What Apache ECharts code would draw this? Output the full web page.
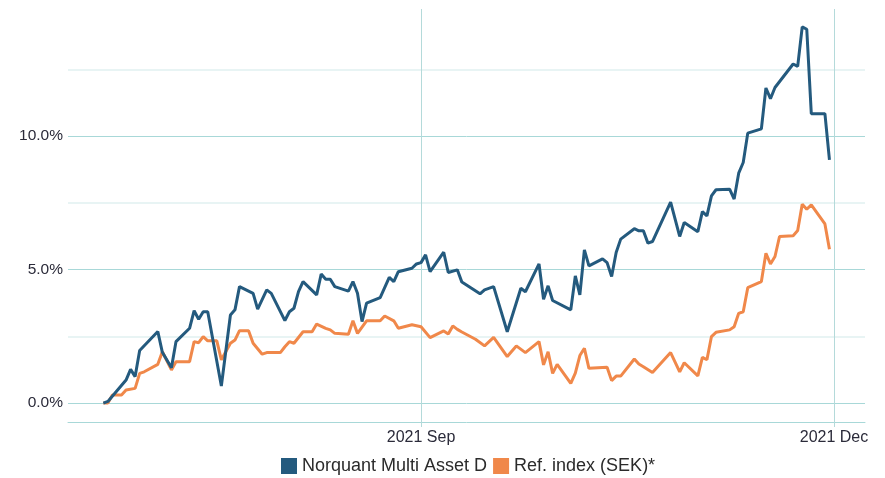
<!DOCTYPE html>
<html>
<head>
    <meta charset="utf-8">
    <title>Norquant Multi Asset D</title>
    <script src="https://cdn.jsdelivr.net/npm/echarts@6/dist/echarts.min.js"></script>
    <style>
        html,body{
            height:100%;
            width:100%;
            margin:0;
            padding:0;
            background:#fff;
        }
        #chart{
            width:885px;
            height:478px;
        }
    </style>
</head>
<body>
<div id="chart"></div>
<script>
    // fund
    var fundDates = ['2021-06-23','2021-06-24','2021-06-28','2021-06-29','2021-06-30','2021-07-01','2021-07-05','2021-07-06','2021-07-08','2021-07-09',
        '2021-07-12','2021-07-13','2021-07-14','2021-07-15','2021-07-16','2021-07-19','2021-07-21','2021-07-22','2021-07-23','2021-07-26',
        '2021-07-27','2021-07-29','2021-07-30','2021-08-02','2021-08-03','2021-08-04','2021-08-05','2021-08-06','2021-08-09','2021-08-10',
        '2021-08-11','2021-08-12','2021-08-13','2021-08-16','2021-08-17','2021-08-18','2021-08-19','2021-08-20','2021-08-23','2021-08-25',
        '2021-08-26','2021-08-27','2021-08-30','2021-08-31','2021-09-01','2021-09-02','2021-09-03','2021-09-06','2021-09-07','2021-09-09',
        '2021-09-10','2021-09-14','2021-09-15','2021-09-17','2021-09-20','2021-09-23','2021-09-24','2021-09-27','2021-09-28','2021-09-29',
        '2021-09-30','2021-10-04','2021-10-05','2021-10-06','2021-10-07','2021-10-08','2021-10-11','2021-10-12','2021-10-13','2021-10-14',
        '2021-10-15','2021-10-18','2021-10-19','2021-10-20','2021-10-21','2021-10-22','2021-10-26','2021-10-28','2021-10-29','2021-11-01',
        '2021-11-02','2021-11-03','2021-11-04','2021-11-05','2021-11-08','2021-11-09','2021-11-10','2021-11-11','2021-11-12','2021-11-15',
        '2021-11-16','2021-11-17','2021-11-18','2021-11-22','2021-11-23','2021-11-24','2021-11-25','2021-11-26','2021-11-29','2021-11-30'];
    var fundValues = [0.00,0.06,0.86,1.26,0.99,1.97,2.68,1.90,1.32,2.30,
        2.80,3.46,3.14,3.42,3.42,0.64,3.30,3.49,4.36,4.11,
        3.52,4.24,4.11,3.09,3.42,3.55,4.17,4.55,4.05,4.83,
        4.64,4.64,4.36,4.19,4.55,4.11,3.05,3.74,3.95,4.71,
        4.55,4.92,5.05,5.21,5.26,5.55,4.92,5.65,4.89,4.99,
        4.53,4.09,4.24,4.36,2.67,4.30,4.17,5.21,3.89,4.39,
        3.84,3.49,4.76,4.05,5.74,5.14,5.40,5.26,4.74,5.64,
        6.14,6.53,6.45,6.45,5.99,6.05,7.53,6.24,6.76,6.42,
        7.17,7.01,7.76,7.99,8.01,7.64,8.61,9.01,10.11,10.27,
        11.80,11.40,11.82,12.70,12.61,14.09,14.00,10.84,10.84,9.11];

    // reference index
    var refDates = ['2021-06-23','2021-06-24','2021-06-25','2021-06-27','2021-06-28','2021-06-30','2021-07-01','2021-07-02','2021-07-05','2021-07-06',
        '2021-07-08','2021-07-09','2021-07-12','2021-07-13','2021-07-14','2021-07-15','2021-07-16','2021-07-18','2021-07-19','2021-07-21',
        '2021-07-22','2021-07-23','2021-07-25','2021-07-26','2021-07-28','2021-07-29','2021-08-01','2021-08-02','2021-08-03','2021-08-04',
        '2021-08-06','2021-08-08','2021-08-09','2021-08-11','2021-08-12','2021-08-13','2021-08-16','2021-08-17','2021-08-18','2021-08-20',
        '2021-08-23','2021-08-24','2021-08-26','2021-08-27','2021-08-30','2021-09-01','2021-09-03','2021-09-06','2021-09-07','2021-09-08',
        '2021-09-09','2021-09-10','2021-09-13','2021-09-15','2021-09-17','2021-09-20','2021-09-22','2021-09-24','2021-09-27','2021-09-28',
        '2021-09-29','2021-09-30','2021-10-01','2021-10-04','2021-10-05','2021-10-06','2021-10-07','2021-10-08','2021-10-12','2021-10-13',
        '2021-10-14','2021-10-15','2021-10-18','2021-10-19','2021-10-20','2021-10-22','2021-10-26','2021-10-28','2021-10-29','2021-11-01',
        '2021-11-02','2021-11-03','2021-11-04','2021-11-05','2021-11-08','2021-11-09','2021-11-10','2021-11-11','2021-11-12','2021-11-15',
        '2021-11-16','2021-11-17','2021-11-18','2021-11-19','2021-11-22','2021-11-23','2021-11-24','2021-11-25','2021-11-26','2021-11-29',
        '2021-11-30'];
    var refValues = [0.00,0.00,0.30,0.30,0.49,0.55,1.11,1.17,1.45,1.92,
        1.24,1.55,1.55,2.30,2.26,2.49,2.33,2.33,1.62,2.24,
        2.36,2.71,2.71,2.24,1.83,1.89,1.89,2.11,2.30,2.24,
        2.67,2.67,2.96,2.80,2.74,2.61,2.58,3.08,2.61,3.08,
        3.08,3.26,3.08,2.80,2.93,2.86,2.45,2.70,2.59,2.89,
        2.76,2.66,2.39,2.14,2.46,1.74,2.14,1.89,2.30,1.43,
        1.92,1.11,1.45,0.74,1.12,1.78,2.05,1.30,1.34,0.84,
        1.01,1.01,1.65,1.46,1.36,1.14,1.89,1.17,1.51,1.02,
        1.71,1.62,2.49,2.65,2.74,2.86,3.36,3.42,4.32,4.55,
        5.61,5.21,5.49,6.24,6.27,6.46,7.45,7.26,7.42,6.71,
        5.76];

    var seriesNames = ['Norquant Multi Asset D', 'Ref. index (SEK)*'];
    var xTicks = ['2021-09-01', '2021-12-01'];
    var yLabelTicks = [0, 5, 10];
    var yMinorTicks = [2.5, 7.5, 12.5];
    var monthNames = ['Jan','Feb','Mar','Apr','May','Jun','Jul','Aug','Sep','Oct','Nov','Dec'];

    function toTime(s) {
        var p = s.split('-');
        return new Date(+p[0], +p[1] - 1, +p[2]).getTime();
    }
    function pairs(dates, values) {
        return dates.map(function (d, i) { return [toTime(d), values[i]]; });
    }

    var xTickTimes = xTicks.map(toTime);
    var font = '"Liberation Sans", Arial, sans-serif';
    var yMin = -0.71, yMax = 14.76;

    var myChart = echarts.init(document.getElementById('chart'));
    // x is a plain value axis holding timestamps, so the two date ticks can be set by hand
    var option = {
        animation: false,
        color: ['#245a7e', '#f0884a'],
        grid: { left: 68, right: 20, top: 9, bottom: 56 },
        legend: {
            data: seriesNames,
            top: 457,
            left: 281,
            padding: 0,
            icon: 'rect',
            itemWidth: 16,
            itemHeight: 16,
            itemGap: 6,
            textStyle: { fontFamily: font, fontSize: 18, color: '#2b2b2b' }
        },
        xAxis: {
            type: 'value',
            min: toTime('2021-06-15') + 5 * 3600000,
            max: toTime('2021-12-07') + 20 * 3600000,
            axisLine: { show: true, onZero: false, lineStyle: { color: '#a8d8d8', width: 1 } },
            axisTick: { show: true, length: 5, customValues: xTickTimes, lineStyle: { color: '#b4dada' } },
            axisLabel: {
                customValues: xTickTimes,
                margin: 8,
                fontFamily: font,
                fontSize: 16,
                color: '#2b2b3a',
                formatter: function (v) {
                    var d = new Date(v);
                    return d.getFullYear() + ' ' + monthNames[d.getMonth()];
                }
            },
            splitLine: { show: true, lineStyle: { color: '#b4dada', width: 1 } }
        },
        yAxis: [{
            type: 'value',
            min: yMin,
            max: yMax,
            axisLine: { show: false },
            axisTick: { show: false, customValues: yLabelTicks },
            axisLabel: {
                customValues: yLabelTicks,
                margin: 5,
                fontFamily: font,
                fontSize: 15.5,
                color: '#2b2b3a',
                formatter: function (v) { return v.toFixed(1) + '%'; }
            },
            splitLine: { show: true, lineStyle: { color: '#a8d8d8', width: 1 } }
        }, {
            // lighter lines between the labelled ones
            type: 'value',
            min: yMin,
            max: yMax,
            position: 'left',
            axisLine: { show: false },
            axisTick: { show: false, customValues: yMinorTicks },
            axisLabel: { show: false },
            splitLine: { show: true, lineStyle: { color: '#e0f0f0', width: 1.5 } }
        }],
        series: [{
            name: seriesNames[0],
            type: 'line',
            showSymbol: false,
            z: 3,
            lineStyle: { width: 3, color: '#245a7e' },
            data: pairs(fundDates, fundValues)
        }, {
            name: seriesNames[1],
            type: 'line',
            showSymbol: false,
            z: 2,
            lineStyle: { width: 3, color: '#f0884a' },
            data: pairs(refDates, refValues)
        }]
    };
    myChart.setOption(option);
</script>
</body>
</html>
